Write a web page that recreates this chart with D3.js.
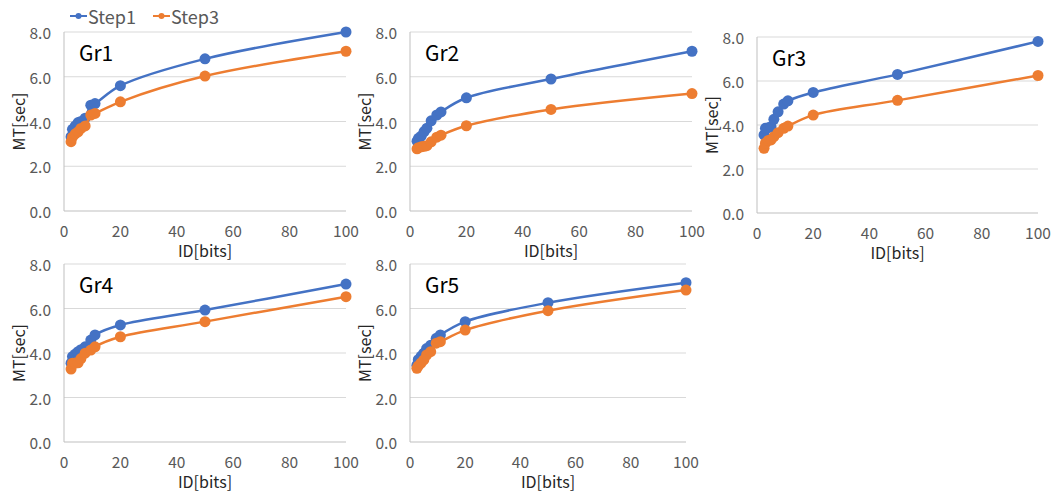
<!DOCTYPE html>
<html>
<head>
<meta charset="utf-8">
<script src="https://cdn.jsdelivr.net/npm/d3@7"></script>
<style>
  body { margin: 0; background: #fff; }
  svg text { font-family: "Noto Sans CJK JP", "Noto Sans", sans-serif; }
</style>
</head>
<body>
<div id="chart-area"></div>
<script>
// ID[bits] values shared by all groups
var ids = [2.5, 3, 4, 5, 6, 7.5, 9.5, 11, 20, 50, 100];
var groupNames = ["Gr1", "Gr2", "Gr3", "Gr4", "Gr5"];
var seriesNames = ["Step1", "Step3"];
var yTicks = [0, 2, 4, 6, 8];
var xTicks = [0, 20, 40, 60, 80, 100];

// MT[sec] per group
var step1Gr1 = [3.32, 3.65, 3.8, 3.95, 4.0, 4.15, 4.73, 4.8, 5.6, 6.8, 8.0];
var step3Gr1 = [3.1, 3.3, 3.45, 3.54, 3.69, 3.8, 4.29, 4.36, 4.88, 6.03, 7.14];
var step1Gr2 = [3.12, 3.25, 3.35, 3.55, 3.7, 4.03, 4.29, 4.43, 5.06, 5.9, 7.14];
var step3Gr2 = [2.78, 2.83, 2.87, 2.89, 2.92, 3.09, 3.3, 3.39, 3.81, 4.54, 5.25];
var step1Gr3 = [3.55, 3.85, 3.88, 3.92, 4.26, 4.6, 4.95, 5.1, 5.48, 6.3, 7.8];
var step3Gr3 = [2.94, 3.17, 3.3, 3.32, 3.47, 3.65, 3.85, 3.95, 4.45, 5.12, 6.25];
var step1Gr4 = [3.54, 3.84, 3.95, 4.06, 4.15, 4.28, 4.58, 4.81, 5.26, 5.93, 7.1];
var step3Gr4 = [3.28, 3.54, 3.55, 3.56, 3.75, 3.99, 4.13, 4.28, 4.73, 5.41, 6.53];
var step1Gr5 = [3.45, 3.7, 3.85, 3.99, 4.2, 4.35, 4.66, 4.81, 5.41, 6.26, 7.16];
var step3Gr5 = [3.31, 3.42, 3.55, 3.69, 3.91, 4.06, 4.44, 4.51, 5.03, 5.9, 6.83];

var step1 = [step1Gr1, step1Gr2, step1Gr3, step1Gr4, step1Gr5];
var step3 = [step3Gr1, step3Gr2, step3Gr3, step3Gr4, step3Gr5];

var colors = ["#4472C4", "#ED7D31"];

// plot areas of the five small charts
var layout = [
  {left: 64, right: 346, top: 32, bottom: 211},
  {left: 410, right: 692, top: 32, bottom: 211},
  {left: 757, right: 1038, top: 37, bottom: 213},
  {left: 64, right: 346, top: 264, bottom: 442},
  {left: 410, right: 686, top: 264, bottom: 442}
];

var svg = d3.select("#chart-area").append("svg")
    .attr("width", 1055)
    .attr("height", 493);

groupNames.forEach(function(name, gi) {
  var box = layout[gi];
  var x = d3.scaleLinear().domain([0, 100]).range([box.left, box.right]);
  var y = d3.scaleLinear().domain([0, 8]).range([box.bottom, box.top]);
  var g = svg.append("g").attr("class", "panel");

  // gridlines
  g.selectAll("line.grid").data(yTicks).enter()
    .append("line")
    .attr("class", "grid")
    .attr("x1", box.left).attr("x2", box.right)
    .attr("y1", function(d) { return y(d); })
    .attr("y2", function(d) { return y(d); })
    .attr("stroke", function(d) { return d === 0 ? "#bfbfbf" : "#d9d9d9"; })
    .attr("stroke-width", 1);

  g.append("line")
    .attr("x1", box.left).attr("x2", box.left)
    .attr("y1", box.top).attr("y2", box.bottom)
    .attr("stroke", "#bfbfbf");

  // tick labels
  g.selectAll("text.ytick").data(yTicks).enter()
    .append("text")
    .attr("class", "ytick")
    .attr("x", box.left - 13)
    .attr("y", function(d) { return y(d); })
    .attr("text-anchor", "end")
    .attr("dominant-baseline", "central")
    .attr("fill", "#595959")
    .attr("font-size", 15.5)
    .text(function(d) { return d3.format(".1f")(d); });

  g.selectAll("text.xtick").data(xTicks).enter()
    .append("text")
    .attr("class", "xtick")
    .attr("x", function(d) { return x(d); })
    .attr("y", box.bottom + 19)
    .attr("text-anchor", "middle")
    .attr("dominant-baseline", "central")
    .attr("fill", "#595959")
    .attr("font-size", 15.5)
    .text(function(d) { return d; });

  // axis titles
  g.append("text")
    .attr("transform", "translate(" + (box.left - 46) + "," + ((box.top + box.bottom) / 2) + ") rotate(-90)")
    .attr("text-anchor", "middle")
    .attr("dominant-baseline", "central")
    .attr("fill", "#262626")
    .attr("font-size", 16)
    .text("MT[sec]");

  g.append("text")
    .attr("x", (box.left + box.right) / 2)
    .attr("y", box.bottom + 39)
    .attr("text-anchor", "middle")
    .attr("dominant-baseline", "central")
    .attr("fill", "#262626")
    .attr("font-size", 16)
    .text("ID[bits]");

  g.append("text")
    .attr("x", box.left + 15)
    .attr("y", box.top + 20)
    .attr("dominant-baseline", "central")
    .attr("fill", "#000")
    .attr("font-size", 21)
    .text(name);

  var line = d3.line()
    .x(function(d) { return x(d[0]); })
    .y(function(d) { return y(d[1]); })
    .curve(d3.curveCatmullRom.alpha(0.5));

  [step1[gi], step3[gi]].forEach(function(vals, si) {
    var pts = ids.map(function(id, i) { return [id, vals[i]]; });
    g.append("path")
      .datum(pts)
      .attr("d", line)
      .attr("fill", "none")
      .attr("stroke", colors[si])
      .attr("stroke-width", 2.5);
    g.selectAll("circle.s" + si).data(pts).enter()
      .append("circle")
      .attr("class", "s" + si)
      .attr("cx", function(d) { return x(d[0]); })
      .attr("cy", function(d) { return y(d[1]); })
      .attr("r", 5.5)
      .attr("fill", colors[si]);
  });
});

// legend
var legendX = [70, 153];
seriesNames.forEach(function(s, i) {
  var lg = svg.append("g").attr("transform", "translate(" + legendX[i] + ",16)");
  lg.append("line").attr("x1", 0).attr("x2", 17).attr("y1", 0).attr("y2", 0)
    .attr("stroke", colors[i]).attr("stroke-width", 2);
  lg.append("circle").attr("cx", 8.5).attr("cy", 0).attr("r", 3).attr("fill", colors[i]);
  lg.append("text").attr("x", 18).attr("y", 0)
    .attr("dominant-baseline", "central")
    .attr("fill", "#595959")
    .attr("font-size", 18)
    .text(s);
});
</script>
</body>
</html>
